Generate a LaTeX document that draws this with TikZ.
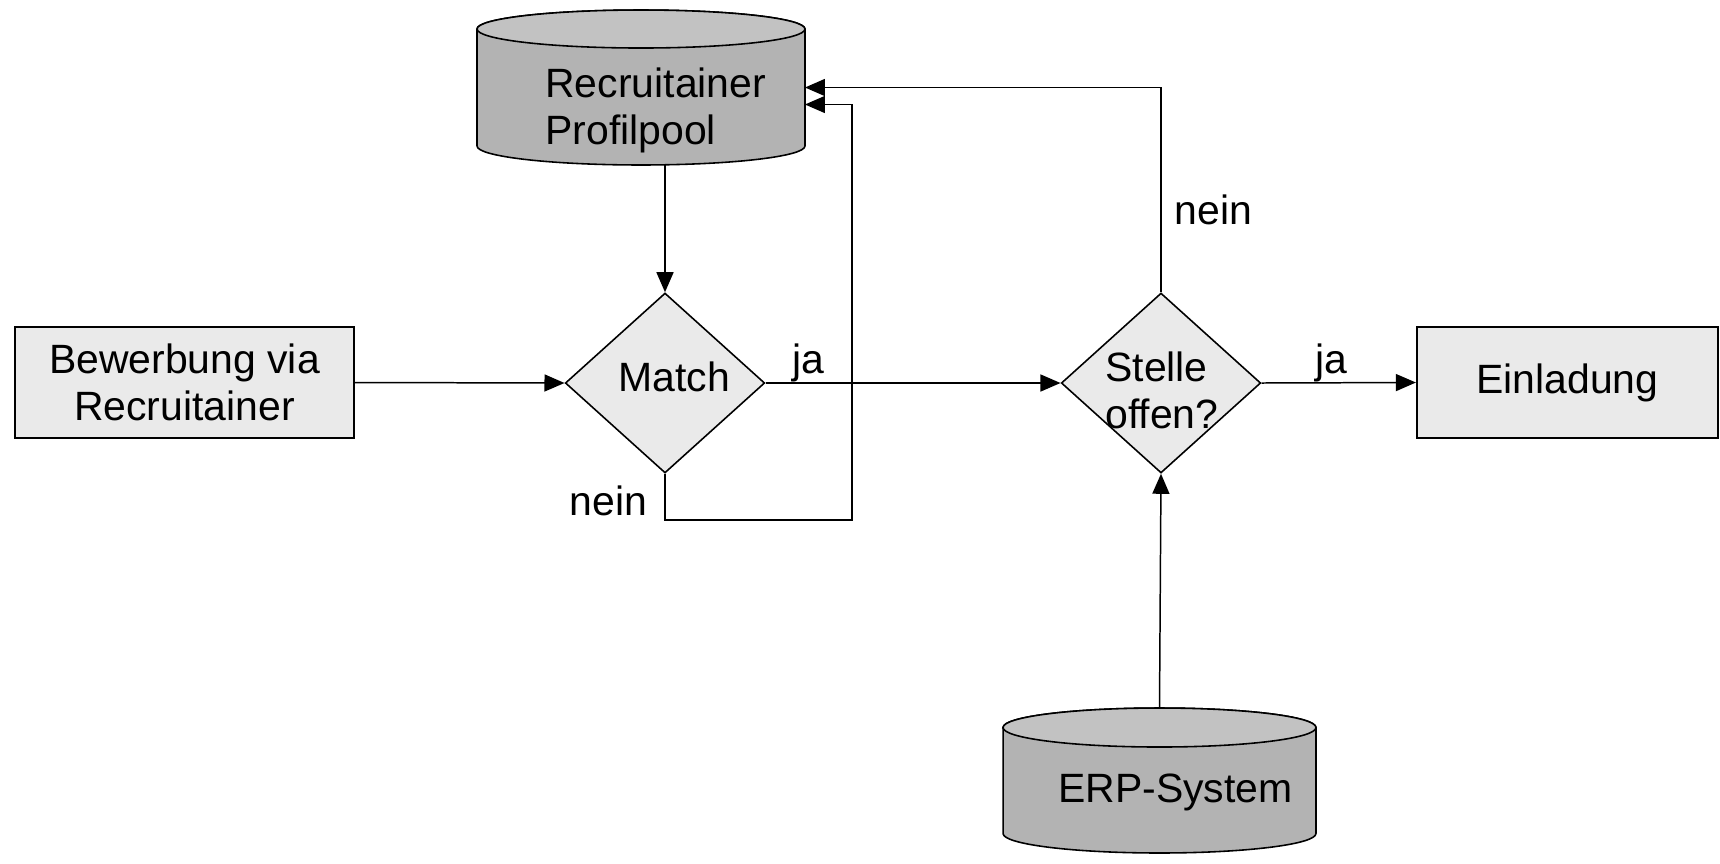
\documentclass[tikz,border=0pt]{standalone}
\usepackage{fontspec}
\setmainfont{Liberation Sans}
\usepackage{tikz}
\usetikzlibrary{arrows.meta,shapes.geometric,positioning}
\definecolor{boxgray}{HTML}{EAEAEA}
\definecolor{cylbody}{HTML}{B3B3B3}
\definecolor{cyltop}{HTML}{C2C2C2}
\newcommand{\dbdraw}[3]{%
	\draw[line width=0.9pt,fill=cylbody] ([yshift=-#3]#1.north west) -- ([yshift=#3]#1.south west) arc[start angle=180,end angle=360,x radius=#2,y radius=#3] -- ([yshift=-#3]#1.north east) arc[start angle=0,end angle=180,x radius=#2,y radius=#3] -- cycle;
	\draw[line width=0.9pt,fill=cyltop] ([yshift=-#3]#1.north) ellipse [x radius=#2,y radius=#3];}

\begin{document}
\begin{tikzpicture}[x=0.02cm,y=-0.02cm,
	every node/.style={font=\fontsize{23.3}{26.8}\selectfont},
	proc/.style={draw,line width=1.3pt,fill=boxgray,rectangle,minimum height=2.22cm,align=center,inner sep=0},
	decis/.style={draw,line width=0.9pt,fill=boxgray,diamond,inner sep=0,minimum width=3.99cm,minimum height=3.6cm},
	store/.style={rectangle,inner sep=0,outer sep=0},
	txt/.style={inner sep=0,anchor=west,align=left},
	lbl/.style={inner sep=0},
	arr/.style={line width=0.85pt,-{Triangle[length=0.4cm,width=0.34cm]}}]
			\useasboundingbox (0,0) rectangle (1720,863);
			\node[proc,minimum width=6.78cm] (bewerbung) at (184.5,382.5) {Bewerbung via\\Recruitainer};
			\node[decis] (match) at (665,383) {};
			\node[txt] (matchtxt) at (618,377) {Match};
			\node[decis] (stelle) at (1161,383) {};
			\node[txt] (stelletxt) at (1105,390) {Stelle\\offen?};
			\node[proc,minimum width=6.02cm] (einladung) at (1567.5,382.5) {Einladung};
			\node[store,minimum width=6.56cm,minimum height=3.1cm] (pool) at (641,87.5) {};
			\dbdraw{pool}{3.28cm}{0.38cm}
			\node[txt] (pooltxt) at (545,110) {Recruitainer\\Profilpool};
			\node[store,minimum width=6.26cm,minimum height=2.9cm] (erp) at (1159.5,780.5) {};
			\dbdraw{erp}{3.13cm}{0.39cm}
			\node[txt] (erptxt) at (1058,792) {ERP-System};
			\coordinate (loop) at (852,520);
			\draw[arr] (bewerbung.east) -- (match.west);
			\draw[arr] (pool.south -| match.north) -- (match.north);
			\draw[arr] (match.east) -- node[lbl,pos=0.145,anchor=south] {ja} (stelle.west);
			\draw[arr] (match.south) |- node[lbl,pos=0.29,anchor=east,xshift=-0.34cm] {nein} (loop) |- ([yshift=-0.34cm]pool.east);
			\draw[arr] (stelle.east) -- node[lbl,pos=0.455,anchor=south] {ja} (einladung.west);
			\draw[arr] (stelle.north) |- node[lbl,pos=0.2,anchor=west,xshift=0.26cm] {nein} (pool.east);
			\draw[arr] (erp.north) -- (stelle.south);
		\end{tikzpicture}
\end{document}
